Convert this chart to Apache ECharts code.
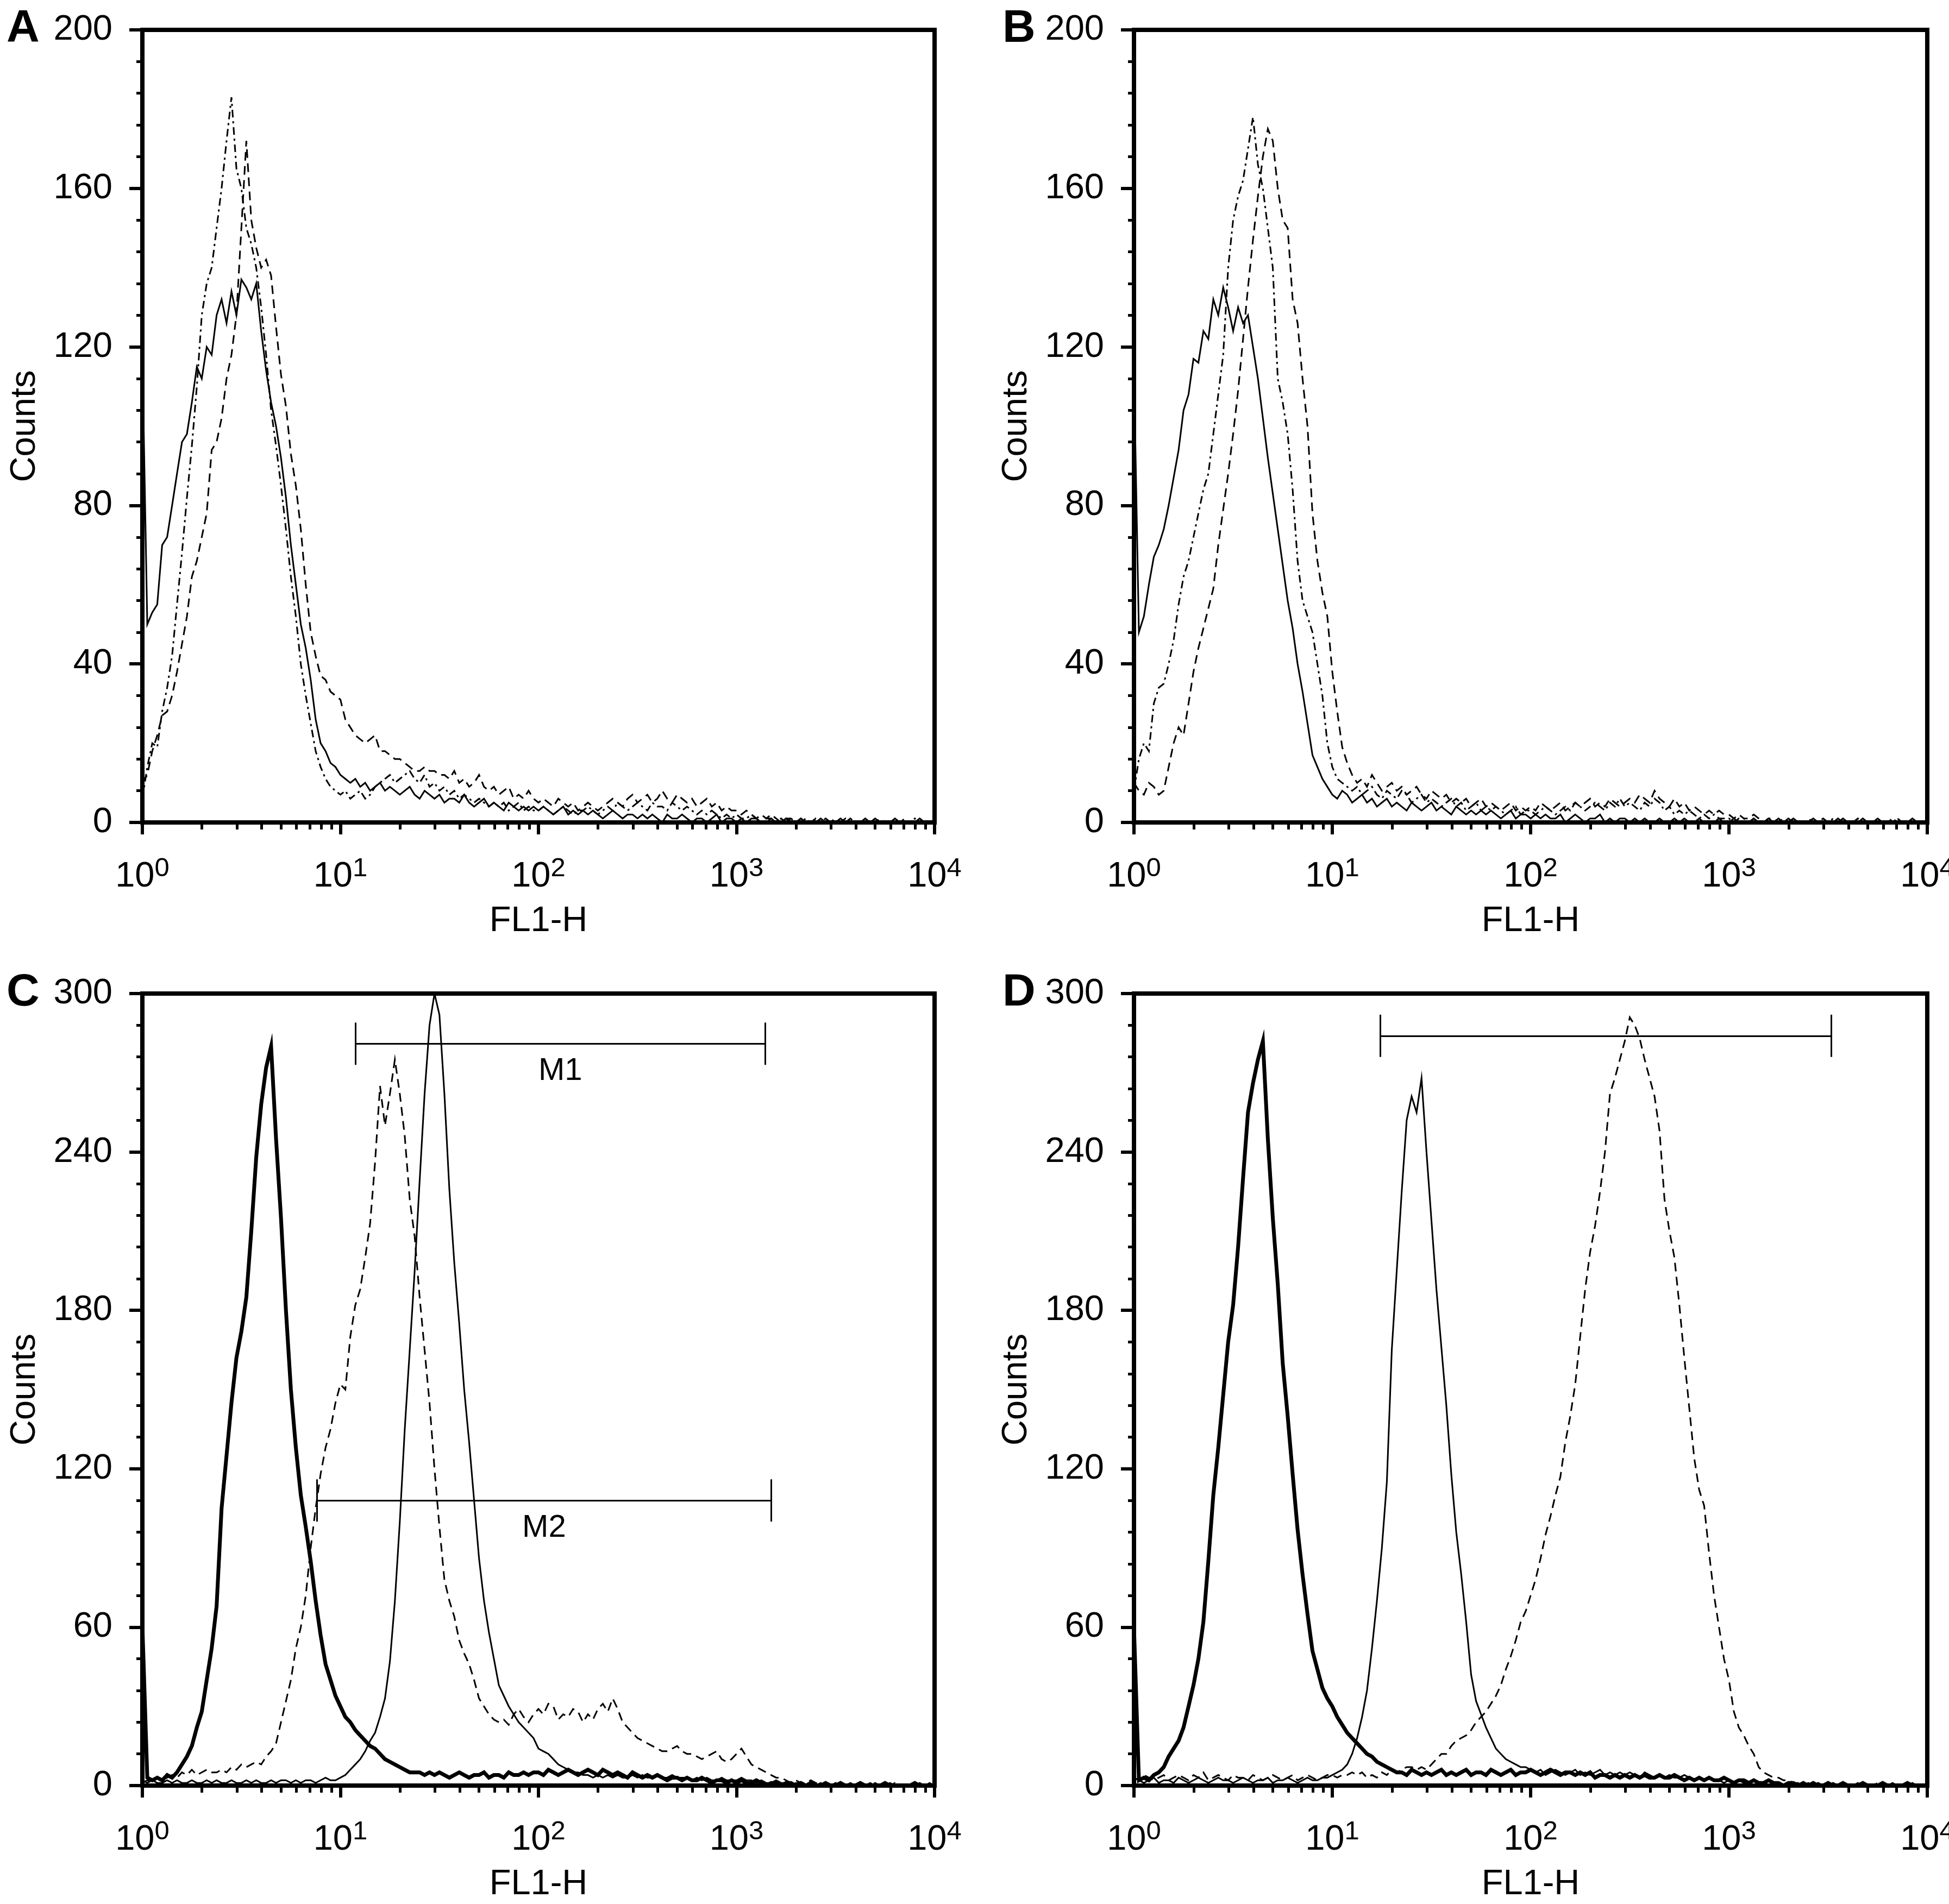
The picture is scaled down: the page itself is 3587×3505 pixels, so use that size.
<!DOCTYPE html>
<html><head><meta charset="utf-8">
<script src="https://cdn.jsdelivr.net/npm/echarts@6/dist/echarts.min.js"></script>
<style>html,body{margin:0;padding:0;background:#fff}#c{width:3587px;height:3505px}</style>
</head><body><div id="c"></div>
<script>
// FL1-H channel positions (log-spaced sampling of the histogram)
const fl1 = [
1,1.059,1.122,1.189,1.259,1.334,1.413,1.496,1.585,1.679,1.778,1.884,1.995,2.113,2.239,2.371,2.512,2.661,2.818,2.985,
3.162,3.350,3.548,3.758,3.981,4.217,4.467,4.732,5.012,5.309,5.623,5.957,6.310,6.683,7.079,7.499,7.943,8.414,8.913,9.441,
10,10.59,11.22,11.89,12.59,13.34,14.13,14.96,15.85,16.79,17.78,18.84,19.95,21.13,22.39,23.71,25.12,26.61,28.18,29.85,
31.62,33.50,35.48,37.58,39.81,42.17,44.67,47.32,50.12,53.09,56.23,59.57,63.10,66.83,70.79,74.99,79.43,84.14,89.13,94.41,
100,105.9,112.2,118.9,125.9,133.4,141.3,149.6,158.5,167.9,177.8,188.4,199.5,211.3,223.9,237.1,251.2,266.1,281.8,298.5,
316.2,335.0,354.8,375.8,398.1,421.7,446.7,473.2,501.2,530.9,562.3,595.7,631.0,668.3,707.9,749.9,794.3,841.4,891.3,944.1,
1000,1059,1122,1189,1259,1334,1413,1496,1585,1679,1778,1884,1995,2113,2239,2371,2512,2661,2818,2985,
3162,3350,3548,3758,3981,4217,4467,4732,5012,5309,5623,5957,6310,6683,7079,7499,7943,8414,8913,9441,
10000];

// Panel A
const aSolid = [
118,50,53,55,70,72,80,88,96,98, 106,115,112,120,118,128,132,126,134,128,
137,135,132,136,124,114,106,100,92,82, 70,60,50,44,36,26,20,18,15,14,
12,11,10,11,9,10,8,9,10,8, 9,8,7,8,9,7,6,8,7,6,
7,5,6,6,5,7,5,4,5,6, 4,5,4,3,5,4,3,4,3,4,
3,4,3,2,3,4,2,3,2,3, 2,3,2,1,2,3,2,1,2,2,
1,2,1,2,1,0,2,1,1,2, 1,0,1,1,0,1,2,0,1,1,
0,1,0,1,1,0,0,1,0,0, 1,0,0,1,0,0,0,1,0,0,
0,1,0,0,0,0,1,0,0,0, 0,0,1,0,0,0,0,1,0,0, 0];
const aDashDot = [
6,14,20,19,28,34,42,55,68,82, 95,110,128,136,140,150,160,172,183,165,
160,150,146,140,130,118,104,95,85,74, 62,52,40,32,25,18,14,11,9,8,
7,8,6,7,8,6,7,9,10,11, 12,10,11,12,13,11,10,12,9,10,
8,9,7,8,6,7,6,5,6,5, 4,5,4,5,3,4,5,3,4,3,
3,4,3,2,3,4,3,2,3,3, 4,3,2,3,4,3,5,4,3,4,
5,4,3,5,4,4,3,5,4,3, 4,3,2,3,2,3,2,1,2,1,
2,1,1,2,1,0,1,1,0,1, 0,1,0,0,1,0,0,0,1,0,
0,0,1,0,0,0,0,0,1,0, 0,0,0,0,0,0,1,0,0,0, 0];
const aDashed = [
10,12,18,22,27,28,32,38,45,52, 62,66,72,78,94,96,102,112,118,128,
150,172,152,145,140,142,138,125,113,105, 93,85,74,60,48,42,37,36,33,32,
31,26,24,22,21,20,21,22,18,18, 17,16,16,15,14,13,13,14,13,13,
12,12,11,13,10,11,9,10,12,9, 8,9,7,8,9,6,7,6,8,6,
5,6,5,4,6,5,4,5,3,4, 5,4,3,4,5,6,5,4,6,7,
5,6,7,5,6,8,6,5,7,6, 5,6,4,5,6,4,5,3,4,3,
3,2,3,2,1,2,1,2,1,0, 1,1,0,1,0,0,1,0,0,1,
0,0,0,1,0,0,0,0,0,1, 0,0,0,0,1,0,0,0,0,0, 0];

// Panel B
const bSolid = [
114,48,52,60,67,70,74,80,87,94, 104,108,117,116,124,122,132,128,135,130,
124,130,126,128,120,112,102,92,83,74, 65,56,49,40,33,25,17,14,11,9,
7,6,8,7,5,6,7,5,6,4, 5,6,4,5,4,3,5,4,3,4,
5,3,4,3,2,4,3,2,3,2, 3,2,3,2,1,2,3,1,2,2,
1,2,1,2,1,1,2,0,1,2, 1,0,1,1,2,0,1,0,1,1,
0,1,0,1,0,0,1,0,0,1, 0,1,0,0,1,0,0,0,1,0,
0,1,0,0,0,1,0,0,1,0, 0,0,1,0,0,0,0,1,0,0,
0,0,0,1,0,0,0,0,0,0, 1,0,0,0,0,0,0,1,0,0, 0];
const bDashDot = [
8,16,20,18,30,34,35,40,46,55, 62,66,72,78,84,88,98,108,118,140,
152,158,162,170,178,166,160,150,140,112, 106,98,84,66,56,52,48,40,32,20,
14,11,10,9,8,9,7,8,9,7, 6,8,7,6,8,7,5,6,7,5,
6,5,4,5,6,4,5,3,4,5, 3,4,3,4,3,2,3,4,2,3,
3,2,3,4,3,2,3,4,3,5, 4,3,4,5,4,3,5,4,6,4,
5,4,3,5,4,6,5,3,4,2, 3,2,3,2,1,2,1,2,1,1,
1,0,1,1,0,1,0,0,1,0, 1,0,0,1,0,0,0,1,0,0,
0,1,0,0,0,0,1,0,0,0, 0,0,0,1,0,0,0,0,0,0, 0];
const bDashed = [
10,8,7,10,9,7,8,14,20,24, 22,30,38,44,49,54,59,70,79,88,
98,109,122,135,147,158,168,175,172,160, 152,150,132,126,112,100,78,66,58,52,
38,28,19,15,12,10,11,9,12,10, 8,9,10,8,9,7,8,9,7,6,
8,7,6,7,5,6,5,6,4,5, 6,4,5,4,3,4,5,3,4,3,
4,3,5,4,3,4,5,3,4,5, 4,5,6,4,5,4,6,5,4,5,
6,5,7,6,5,8,6,5,4,6, 4,5,3,4,3,2,3,2,3,2,
2,1,2,1,1,2,1,0,1,1, 0,1,0,1,0,0,1,0,0,1,
0,0,1,0,0,0,0,1,0,0, 0,0,0,0,1,0,0,0,0,0, 0];

// Panel C
const cThick = [
61,3,2,3,2,4,3,5,8,11, 15,22,28,40,52,68,105,125,145,162,
172,185,210,238,258,272,280,245,215,180, 150,128,110,98,85,70,57,46,40,34,
30,26,24,21,19,17,15,14,12,10, 9,8,7,6,5,5,5,4,5,4,
5,4,3,4,5,4,3,4,4,5, 3,4,4,3,5,4,4,5,4,5,
5,4,6,5,4,5,6,5,4,5, 6,5,4,6,5,4,5,4,3,5,
4,3,4,3,4,3,2,3,3,2, 3,2,2,3,2,1,2,2,1,2,
1,2,1,1,2,1,0,1,1,0, 1,1,0,1,0,1,0,0,1,0,
0,1,0,0,0,1,0,0,0,0, 1,0,0,0,0,0,1,0,0,0, 0];
const cThin = [
2,1,2,1,1,2,1,2,1,1, 2,1,1,2,1,2,1,1,2,1,
1,2,1,2,1,1,2,1,2,2, 1,2,1,2,2,1,2,3,2,2,
3,4,6,8,10,13,17,20,26,33, 47,70,100,135,165,195,229,262,288,300,
292,262,226,198,175,150,130,108,86,70, 58,48,38,34,30,27,24,22,20,18,
14,13,12,10,8,7,6,5,5,4, 4,3,4,3,4,3,4,3,3,4,
3,4,3,3,4,3,3,4,3,3, 3,2,3,2,3,2,2,3,2,2,
2,3,2,2,1,2,1,1,2,1, 1,0,1,1,0,1,0,1,0,0,
1,0,0,1,0,0,0,1,0,0, 0,1,0,0,0,0,0,1,0,0, 0];
const cDashed = [
1,2,1,3,2,3,4,3,5,4, 6,4,5,6,5,5,6,5,7,6,
8,7,8,9,8,11,13,16,24,32, 40,52,60,72,90,105,118,128,135,145,
152,150,170,182,188,200,213,236,265,250, 262,275,262,246,222,208,185,165,145,120,
98,78,70,64,55,50,46,40,33,30, 27,25,24,25,23,27,29,26,24,27,
29,27,31,30,25,27,26,29,28,24, 27,25,29,31,28,33,29,24,22,20,
18,17,16,15,14,13,13,14,15,13, 12,12,11,10,11,12,13,10,9,10,
12,14,11,8,7,6,5,4,3,3, 2,1,2,1,1,2,1,1,0,1,
1,0,1,0,0,1,0,0,1,0, 0,0,1,0,0,0,0,0,0,1, 0];

// Panel D
const dThick = [
60,2,3,2,4,5,7,11,14,17, 22,30,38,48,62,85,110,128,148,168,
182,204,230,255,266,275,282,245,215,190, 160,140,118,97,80,65,51,44,37,33,
30,26,23,20,18,16,14,12,11,9, 8,7,6,5,5,4,6,5,4,5,
4,5,6,4,5,4,5,6,4,5, 5,4,6,5,4,5,6,4,5,5,
6,5,4,5,6,5,4,5,5,4, 5,4,5,3,4,4,3,4,3,4,
3,4,3,4,3,3,4,3,3,4, 3,2,3,2,3,2,3,2,2,3,
2,1,2,2,1,2,1,1,2,1, 1,0,1,1,0,1,0,1,0,0,
1,0,0,1,0,0,0,1,0,0, 0,1,0,0,0,0,1,0,0,0, 0];
const dThin = [
3,2,1,2,3,1,2,2,1,3, 2,1,2,3,2,1,2,3,2,2,
1,2,3,2,1,2,2,3,1,2, 2,3,2,1,2,3,2,2,3,3,
4,5,6,8,12,18,26,36,52,70, 90,115,165,195,225,252,261,255,268,240,
214,188,166,144,118,96,80,62,42,32, 27,22,18,14,12,10,9,8,7,7,
6,5,6,4,5,6,5,4,5,6, 4,5,4,5,6,4,5,4,5,4,
5,4,3,5,4,3,4,3,4,3, 3,4,3,2,3,2,3,2,2,1,
2,1,2,1,1,2,1,1,0,1, 1,0,1,0,0,1,0,0,1,0,
0,1,0,0,0,0,1,0,0,0, 0,0,0,1,0,0,0,0,0,0, 0];
const dDashed = [
3,2,4,3,2,3,4,2,3,4, 3,2,4,3,5,2,3,4,3,2,
4,3,3,2,4,3,2,3,4,3, 2,3,4,2,3,4,3,2,3,4,
4,3,4,4,5,4,5,3,4,3, 5,4,6,5,6,7,7,6,7,6,
8,10,12,12,15,17,18,19,21,24, 26,28,31,34,38,44,49,55,62,66,
72,78,86,95,102,110,117,130,140,152, 170,188,202,212,225,240,262,268,275,282,
291,288,283,275,268,261,248,222,210,200, 182,162,143,124,112,106,88,72,60,48,
40,28,22,19,15,12,7,5,4,3, 3,2,2,1,1,0,1,0,1,0,
0,1,0,0,0,1,0,0,0,0, 1,0,0,0,0,0,0,1,0,0, 0];

// Panel labels, count ranges, marker gates
const panelLetters = ['A', 'B', 'C', 'D'];
const countMax = [200, 200, 300, 300];
const countStep = [40, 40, 60, 60];
const gatesC = [
  {name: 'M1', from: 11.9, to: 1396, level: 281, half: 8},
  {name: 'M2', from: 7.6, to: 1500, level: 108, half: 8}
];
const gatesD = [
  {name: '', from: 17.5, to: 3282, level: 284, half: 8}
];

const panelSeries = [
  [{d: aSolid, k: 'thin'}, {d: aDashed, k: 'dash'}, {d: aDashDot, k: 'dashdot'}],
  [{d: bSolid, k: 'thin'}, {d: bDashed, k: 'dash'}, {d: bDashDot, k: 'dashdot'}],
  [{d: cThick, k: 'thick'}, {d: cThin, k: 'thin'}, {d: cDashed, k: 'dash'}],
  [{d: dThick, k: 'thick'}, {d: dThin, k: 'thin'}, {d: dDashed, k: 'dash'}]
];
const panelGates = [[], [], gatesC, gatesD];

const FONT = '"Liberation Sans", Arial, Helvetica, sans-serif';
const grids = [
  {left: 262, top: 55, width: 1458, height: 1459},
  {left: 2087, top: 55, width: 1460, height: 1459},
  {left: 262, top: 1829, width: 1458, height: 1458},
  {left: 2087, top: 1829, width: 1460, height: 1458}
];
const letterPos = [[12, 12], [1845, 12], [12, 1786], [1845, 1786]];

const minorLog = [];
for (let d = 0; d < 4; d++) for (let m = 2; m <= 9; m++) minorLog.push(d + Math.log10(m));

const styles = {
  thin: {width: 3, type: 'solid'},
  thick: {width: 7, type: 'solid'},
  dash: {width: 3, type: [16, 10]},
  dashdot: {width: 3, type: [14, 7, 4, 7]}
};

const option = {
  animation: false,
  backgroundColor: '#fff',
  textStyle: {fontFamily: FONT, color: '#000'},
  title: panelLetters.map((t, i) => ({
    text: t, left: letterPos[i][0], top: letterPos[i][1], padding: 0,
    textStyle: {fontSize: 84, fontWeight: 'bold', fontFamily: FONT, color: '#000'}
  })),
  grid: grids.map(g => Object.assign({show: true, borderWidth: 8, borderColor: '#000', containLabel: false, outerBoundsMode: 'none'}, g)),
  xAxis: [],
  yAxis: [],
  series: []
};

for (let i = 0; i < 4; i++) {
  option.xAxis[i] = {
    gridIndex: i, type: 'log', logBase: 10, min: 1, max: 10000, position: 'bottom',
    name: 'FL1-H', nameLocation: 'middle', nameGap: 150, nameMoveOverlap: false,
    nameTextStyle: {fontSize: 65, fontFamily: FONT, color: '#000'},
    axisLine: {show: true, lineStyle: {color: '#000', width: 8}},
    axisTick: {show: true, length: 22, lineStyle: {color: '#000', width: 6}},
    splitLine: {show: false},
    axisLabel: {
      margin: 61, color: '#000',
      formatter: v => '{b|10}{s|' + Math.round(Math.log10(v)) + '}',
      rich: {
        b: {fontSize: 65, fontFamily: FONT, color: '#000', lineHeight: 72, verticalAlign: 'bottom'},
        s: {fontSize: 49, fontFamily: FONT, color: '#000', lineHeight: 36, verticalAlign: 'top'}
      }
    }
  };
  option.xAxis[4 + i] = {
    gridIndex: i, type: 'value', min: 0, max: 4, position: 'bottom',
    axisLine: {show: false}, axisLabel: {show: false}, splitLine: {show: false},
    axisTick: {show: true, customValues: minorLog, length: 13, lineStyle: {color: '#000', width: 5}}
  };
  option.yAxis[i] = {
    gridIndex: i, type: 'value', min: 0, max: countMax[i], interval: countStep[i],
    name: 'Counts', nameLocation: 'middle', nameGap: 183, nameMoveOverlap: false,
    nameTextStyle: {fontSize: 65, fontFamily: FONT, color: '#000'},
    axisLine: {show: true, lineStyle: {color: '#000', width: 8}},
    axisTick: {show: true, length: 24, lineStyle: {color: '#000', width: 6}},
    minorTick: {show: true, splitNumber: 5, length: 11, lineStyle: {color: '#000', width: 5}},
    splitLine: {show: false},
    axisLabel: {margin: 55, fontSize: 65, fontFamily: FONT, color: '#000'}
  };
  panelSeries[i].forEach((s, j) => {
    const ser = {
      type: 'line', xAxisIndex: i, yAxisIndex: i,
      data: fl1.map((x, k) => [x, s.d[k]]),
      symbol: 'none', showSymbol: false, silent: true,
      lineStyle: Object.assign({color: '#000', join: 'miter'}, styles[s.k]),
      z: 3
    };
    if (j === 0 && panelGates[i].length) {
      const md = [];
      panelGates[i].forEach(g => {
        md.push([
          {coord: [g.from, g.level], label: {show: !!g.name, formatter: g.name, position: 'insideMiddleBottom', distance: 22, fontSize: 58, fontFamily: FONT, color: '#000'}},
          {coord: [g.to, g.level]}
        ]);
        md.push([{coord: [g.from, g.level - g.half]}, {coord: [g.from, g.level + g.half]}]);
        md.push([{coord: [g.to, g.level - g.half]}, {coord: [g.to, g.level + g.half]}]);
      });
      ser.markLine = {
        silent: true, symbol: ['none', 'none'], animation: false,
        lineStyle: {color: '#000', width: 3, type: 'solid'},
        label: {show: false},
        data: md
      };
    }
    option.series.push(ser);
  });
}

const chart = echarts.init(document.getElementById('c'), null, {renderer: 'canvas', width: 3587, height: 3505});
chart.setOption(option);
</script>
</body></html>
